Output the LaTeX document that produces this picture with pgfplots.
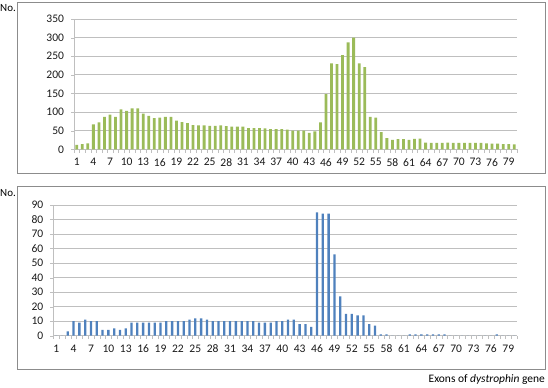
\documentclass[border=0pt]{standalone}
\usepackage{fontspec}
\setmainfont{Carlito}
\usepackage{pgfplots}
\pgfplotsset{compat=1.18}
\definecolor{topgreen}{HTML}{9BBB59}
\definecolor{botblue}{HTML}{4F81BD}
\definecolor{gridgray}{HTML}{BFBFBF}
\definecolor{framegray}{HTML}{8C8C8C}
\pgfplotsset{
  exonaxis/.style={
    scale only axis,
    xmin=0.5, xmax=80.5,
    ymin=0,
    xtick={1,4,...,79},
    minor xtick={0.5,1.5,...,80.5},
    major x tick style={draw=none},
    minor x tick style={draw=gridgray},
    minor tick length=3.5bp,
    major tick length=3bp,
    xtick align=outside, ytick align=outside,
    axis x line*=bottom, axis y line*=left,
    axis line style={draw=gridgray, line width=0.8pt, -},
    ytick style={draw=gridgray},
    ymajorgrids,
    grid style={draw=gridgray, line width=0.9pt},
    tick label style={font=\fontsize{11.6}{13}\selectfont, text=black!90},
    /pgf/number format/assume math mode=true,
    xticklabel style={yshift=-2.5bp},
    yticklabel style={xshift=-3.5bp},
    ybar, bar shift=0pt,
  }
}
\begin{document}
\begin{tikzpicture}[x=1bp,y=1bp]
\path (0,0) rectangle (548,387);
% frames
\draw[framegray, line width=0.7pt] (17,214) rectangle (545,385);
\draw[framegray, line width=0.7pt] (17,18) rectangle (545,201);
\node[anchor=west, inner sep=0pt, font=\fontsize{11}{12}\selectfont] at (0,379) {No.};
\node[anchor=west, inner sep=0pt, font=\fontsize{11}{12}\selectfont] at (0,194) {No.};
\node[anchor=east, inner sep=0pt, font=\fontsize{11.5}{12}\selectfont] at (545,7) {Exons of \textit{dystrophin} gene};

\begin{axis}[exonaxis,
  at={(74bp,237.7bp)}, anchor=origin,
  width=443bp, height=130.3bp,
  ymax=350, ytick={0,50,...,350},
  bar width=2.8bp]
\addplot[fill=topgreen, draw=none] coordinates {
(1,12) (2,14) (3,16) (4,67) (5,72) (6,87) (7,93) (8,87) (9,107) (10,103)
(11,110) (12,110) (13,96) (14,90) (15,84) (16,85) (17,87) (18,87) (19,77) (20,73)
(21,70) (22,65) (23,64) (24,64) (25,63) (26,63) (27,64) (28,62) (29,61) (30,61)
(31,61) (32,57) (33,57) (34,57) (35,56) (36,54) (37,54) (38,54) (39,53) (40,50)
(41,50) (42,50) (43,44) (44,48) (45,72) (46,148) (47,231) (48,229) (49,253) (50,287)
(51,300) (52,231) (53,221) (54,87) (55,85) (56,46) (57,30) (58,25) (59,27) (60,27)
(61,25) (62,28) (63,29) (64,18) (65,17) (66,17) (67,17) (68,18) (69,17) (70,17)
(71,17) (72,17) (73,17) (74,17) (75,16) (76,15) (77,15) (78,14) (79,14) (80,13)
};
\end{axis}

\begin{axis}[exonaxis,
  at={(53.3bp,51.3bp)}, anchor=origin,
  width=463.7bp, height=130.7bp,
  ymax=90, ytick={0,10,...,90},
  bar width=2.3bp]
\addplot[fill=botblue, draw=none] coordinates {
(1,0) (2,0) (3,3) (4,10) (5,9) (6,11) (7,10) (8,10) (9,4) (10,4)
(11,5) (12,4) (13,5) (14,9) (15,9) (16,9) (17,9) (18,9) (19,9) (20,10)
(21,10) (22,10) (23,10) (24,11) (25,12) (26,12) (27,11) (28,10) (29,10) (30,10)
(31,10) (32,10) (33,10) (34,10) (35,10) (36,9) (37,9) (38,9) (39,10) (40,10)
(41,11) (42,11) (43,8) (44,8) (45,6) (46,85) (47,84) (48,84) (49,56) (50,27)
(51,15) (52,15) (53,14) (54,14) (55,8) (56,7) (57,1) (58,1) (59,0) (60,0)
(61,0) (62,1) (63,1) (64,1) (65,1) (66,1) (67,1) (68,1) (69,0) (70,0)
(71,0) (72,0) (73,0) (74,0) (75,0) (76,0) (77,1) (78,0) (79,0) (80,0)
};
\end{axis}
\end{tikzpicture}
\end{document}
